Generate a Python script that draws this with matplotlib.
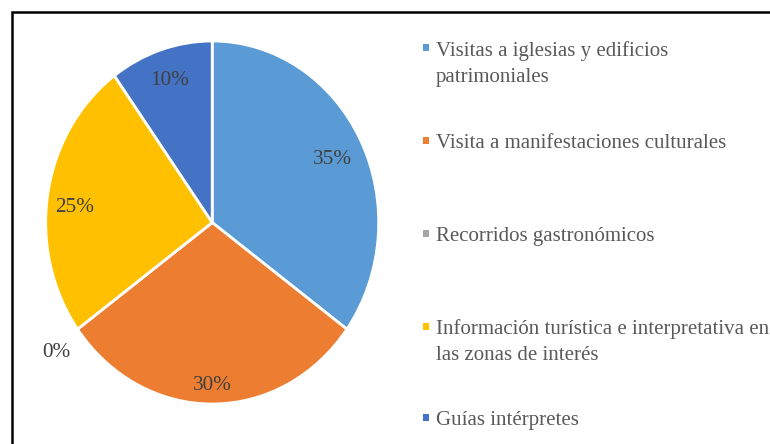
import numpy as np
import matplotlib.pyplot as plt
from matplotlib.patches import Rectangle
from matplotlib.transforms import offset_copy

categories = [
    "Visitas a iglesias y edificios\npatrimoniales",
    "Visita a manifestaciones culturales",
    "Recorridos gastronómicos",
    "Información turística e interpretativa en\nlas zonas de interés",
    "Guías intérpretes",
]
values = [35, 30, 0, 25, 10]
colors = ["#5B9BD5", "#ED7D31", "#A5A5A5", "#FFC000", "#4472C4"]
# placement of each percentage label: radius fraction and angular nudge (deg)
label_radius = [0.805, 0.88, 1.168, 0.83, 0.836]
label_turn = [-0.4, 0.0, 0.8, 2.1, -0.2]

W, H = 770, 444
fig = plt.figure(figsize=(W / 100, H / 100), dpi=100)
plt.rcParams["font.family"] = ["Liberation Serif", "DejaVu Serif"]
FS_LABEL = 15.3
FS_LEGEND = 15.0

# outer frame (runs off the right and bottom edges)
fig.patches.append(Rectangle((11.5 / W, -0.05), 1.0, 1 - 12.5 / H + 0.05,
                             transform=fig.transFigure, fill=False,
                             edgecolor="black", linewidth=1.8))

# pie box (slightly taller than wide)
cx, cy, rx, ry = 212.2, 222.5, 166.5, 181.5
ax = fig.add_axes([(cx - rx) / W, 1 - (cy + ry) / H, 2 * rx / W, 2 * ry / H])
wedges, _ = ax.pie(values, colors=colors, startangle=90, counterclock=False,
                   wedgeprops=dict(edgecolor="white", linewidth=2))
ax.set_aspect("auto")
ax.set_xlim(-1, 1)
ax.set_ylim(-1, 1)
ax.axis("off")

# baseline sits below the glyph centre so the digits look centred
label_tr = offset_copy(ax.transData, fig=fig, x=0, y=-7.3, units="dots")
total = sum(values)
start = 90.0
for v, k, t in zip(values, label_radius, label_turn):
    sweep = v / total * 360
    mid = np.deg2rad(start - sweep / 2 + t)
    ax.text(k * np.cos(mid), k * np.sin(mid), f"{v}%", ha="center",
            va="baseline", fontsize=FS_LABEL, color="#404040",
            transform=label_tr, clip_on=False)
    start -= sweep

# legend entries: baseline of the first line of each entry (pixels from top)
baselines = [56, 148.5, 241, 334, 425]
line_step = 25.5
for lab, col, yb in zip(categories, colors, baselines):
    fig.patches.append(Rectangle((422.5 / W, 1 - (yb - 4.5) / H), 7 / W, 7 / H,
                                 transform=fig.transFigure, facecolor=col,
                                 edgecolor="none"))
    for i, line in enumerate(lab.split("\n")):
        fig.text(436 / W, 1 - (yb + i * line_step) / H, line, ha="left",
                 va="baseline", fontsize=FS_LEGEND, color="#595959")

fig.savefig("out.png", dpi=100)
